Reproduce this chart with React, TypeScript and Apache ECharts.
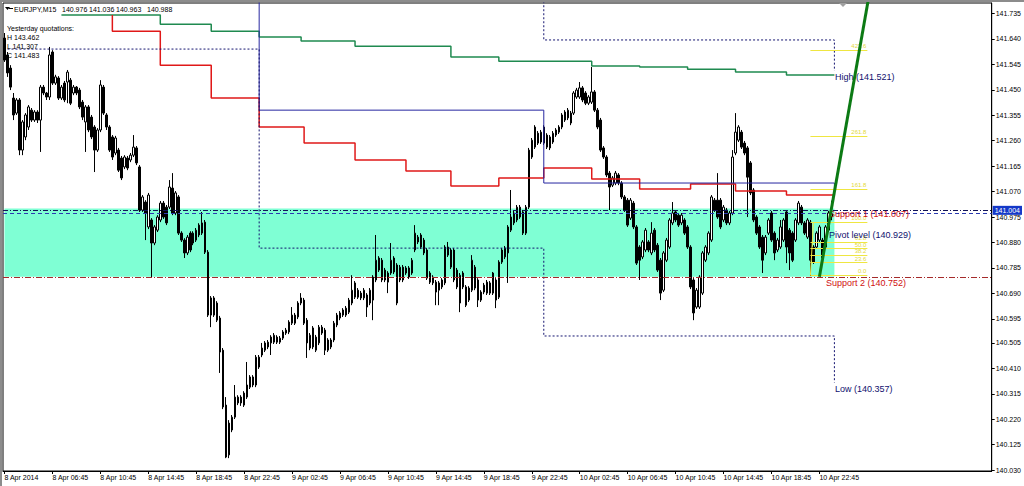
import React, { useEffect, useRef } from "react";
import * as echarts from "echarts";

const FONT = "'Liberation Sans', Arial, sans-serif";

// ---------- axes ----------
const TIME_LABELS = [
  "8 Apr 2014", "8 Apr 06:45", "8 Apr 10:45", "8 Apr 14:45", "8 Apr 18:45", "8 Apr 22:45",
  "9 Apr 02:45", "9 Apr 06:45", "9 Apr 10:45", "9 Apr 14:45", "9 Apr 18:45", "9 Apr 22:45",
  "10 Apr 02:45", "10 Apr 06:45", "10 Apr 10:45", "10 Apr 14:45", "10 Apr 18:45", "10 Apr 22:45",
];
const LABEL_STEP = 16; // bars between time labels (4h of M15)
const SLOT_COUNT = 330; // bars that fit the window incl. chart shift
const Y_MIN = 140.027;
const Y_MAX = 141.774;
const Y_TICKS = [
  140.03, 140.125, 140.22, 140.315, 140.41, 140.505, 140.595, 140.69, 140.785, 140.88,
  140.975, 141.07, 141.165, 141.26, 141.355, 141.45, 141.545, 141.64, 141.735,
];

// ---------- candles: [open, close, low, high] in 0.001 above 140.000 ----------
const CANDLES_PTS: number[][] = [
  [1643,1561,1554,1662],[1580,1513,1498,1591],[1531,1460,1449,1542],[1419,1356,1337,1438],[1363,1412,1356,1419],
  [1412,1225,1206,1419],[1225,1330,1206,1337],[1274,1356,1262,1363],[1311,1386,1300,1393],[1374,1337,1330,1382],
  [1337,1367,1330,1374],[1367,1337,1326,1374],[1337,1460,1218,1468],[1460,1438,1430,1468],[1438,1423,1412,1442],
  [1423,1580,1412,1610],[1591,1475,1468,1598],[1475,1498,1468,1506],[1494,1419,1412,1501],[1419,1460,1412,1468],
  [1475,1412,1404,1483],[1479,1516,1400,1524],[1486,1400,1393,1494],[1438,1460,1430,1468],[1460,1438,1430,1464],
  [1449,1386,1378,1457],[1404,1348,1337,1412],[1330,1386,1218,1393],[1386,1300,1292,1393],[1348,1274,1266,1356],
  [1311,1225,1143,1318],[1225,1300,1218,1307],[1300,1468,1292,1486],[1460,1363,1356,1468],[1356,1311,1300,1363],
  [1311,1225,1218,1318],[1274,1199,1188,1281],[1214,1270,1206,1278],[1225,1150,1143,1233],[1195,1121,1113,1203],
  [1162,1199,1154,1206],[1195,1158,1150,1203],[1188,1206,1180,1214],[1206,1236,1199,1281],[1233,1177,1169,1240],
  [1162,1001,994,1169],[1001,1050,994,1057],[1031,990,889,1038],[938,1057,930,1065],[964,878,751,971],
  [878,938,870,945],[926,975,919,982],[964,1027,956,1035],[1027,975,968,1035],[1012,953,945,1020],
  [1012,1087,1005,1113],[1083,990,982,1139],[990,1065,982,1072],[1050,915,908,1057],[915,889,882,922],
  [889,841,822,896],[841,900,833,908],[915,852,844,922],[878,915,870,922],[889,926,882,934],
  [908,945,900,952],[915,953,908,994],[956,844,837,964],[844,609,602,852],[609,673,564,680],
  [673,609,602,680],[590,654,583,661],[598,471,393,606],[478,266,258,486],[273,79,75,303],
  [87,206,75,217],[180,228,172,236],[228,303,221,348],[281,303,273,310],[303,281,270,310],
  [273,318,266,325],[303,348,296,434],[340,378,333,385],[378,348,340,385],[348,452,340,460],
  [452,415,408,460],[460,486,452,505],[478,505,471,512],[508,490,482,516],[505,527,460,534],
  [508,534,501,542],[527,508,501,534],[508,523,501,531],[523,546,516,553],[542,553,535,561],
  [546,583,538,590],[579,609,572,639],[609,579,572,617],[602,654,594,661],[654,673,646,691],
  [665,579,572,673],[590,505,449,598],[486,534,478,542],[561,490,482,568],[478,527,471,535],
  [505,564,497,572],[564,542,535,572],[553,478,460,561],[478,516,471,523],[516,490,482,523],
  [516,579,508,587],[572,609,564,617],[598,617,590,624],[609,628,602,635],[609,635,602,643],
  [620,665,613,673],[654,702,646,758],[676,729,669,736],[702,676,669,710],[691,673,665,699],
  [673,702,665,710],[684,639,602,691],[654,702,646,710],[665,751,590,758],[740,814,732,908],
  [777,822,770,829],[814,740,732,822],[777,740,732,785],[732,766,691,773],[766,814,759,878],
  [822,770,762,829],[796,654,646,803],[740,788,732,796],[788,740,732,796],[766,785,759,792],
  [785,751,744,792],[766,814,759,822],[852,915,844,945],[900,882,874,908],[863,908,856,915],
  [889,841,833,897],[852,747,740,859],[766,732,725,773],[729,751,721,758],[732,695,646,740],
  [702,729,646,736],[714,740,706,747],[729,863,721,870],[863,833,826,882],[788,852,781,859],
  [852,740,732,859],[777,714,706,785],[654,758,620,766],[766,714,706,773],[714,646,639,721],
  [665,710,658,717],[702,814,695,833],[788,710,702,796],[740,665,639,747],[665,695,658,702],
  [695,721,687,729],[732,691,684,740],[691,729,684,736],[691,766,684,770],[740,665,635,747],
  [676,807,669,814],[807,852,800,859],[826,859,818,867],[841,938,729,945],[926,975,919,1076],
  [953,990,945,998],[964,1012,956,1020],[1012,975,968,1020],[994,915,908,1001],[915,1012,908,1020],
  [1012,1225,1005,1233],[1199,1262,1192,1270],[1236,1311,1229,1318],[1288,1251,1244,1296],[1255,1292,1248,1300],
  [1251,1311,1244,1318],[1281,1236,1229,1288],[1274,1233,1225,1281],[1255,1288,1248,1296],[1281,1300,1274,1307],
  [1292,1311,1285,1318],[1311,1356,1303,1363],[1337,1367,1330,1374],[1345,1374,1337,1382],[1363,1326,1318,1371],
  [1363,1438,1356,1445],[1423,1449,1416,1457],[1423,1457,1416,1479],[1457,1412,1404,1464],[1438,1400,1393,1445],
  [1400,1423,1393,1430],[1404,1442,1397,1535],[1442,1374,1367,1449],[1374,1311,1303,1382],[1337,1225,1218,1345],
  [1233,1199,1192,1240],[1199,1132,1124,1206],[1139,1087,1001,1147],[1094,1121,1087,1128],[1102,1139,1094,1147],
  [1132,1102,1094,1139],[1102,1050,1042,1109],[1050,1001,994,1057],[1038,945,938,1046],[971,1038,964,1046],
  [1027,938,930,1035],[938,803,796,945],[863,814,740,870],[826,882,818,889],[852,926,844,934],
  [882,852,844,889],[841,915,833,956],[926,852,844,934],[870,777,770,878],[814,691,665,822],
  [702,841,695,848],[814,889,807,897],[863,964,856,971],[953,990,945,1031],[994,964,956,1001],
  [982,945,938,990],[953,982,945,990],[964,915,908,971],[938,863,856,945],[863,714,706,870],
  [740,617,590,747],[639,702,632,710],[639,751,632,758],[691,841,684,848],[814,863,807,870],
  [841,915,833,922],[889,1050,882,1057],[1038,1001,994,1046],[1038,975,968,1139],[1038,938,930,1046],
  [964,1012,956,1020],[1001,953,945,1009],[953,990,945,998],[990,1199,982,1225],[1214,1292,1206,1363],
  [1262,1311,1255,1318],[1292,1236,1229,1300],[1251,1214,1206,1259],[1233,1124,975,1240],[1177,1065,1057,1184],
  [1076,964,956,1083],[975,915,908,982],[938,863,856,945],[900,814,766,908],[841,900,833,908],
  [915,964,908,971],[990,889,882,998],[915,841,814,922],[852,889,844,897],[863,938,856,964],
  [889,964,882,971],[994,863,803,1001],[926,841,777,934],[915,814,807,922],[889,964,882,971],
  [953,1027,945,1035],[1012,953,945,1020],[953,915,908,960],[900,964,893,971],[956,814,755,964],
  [863,807,800,870],[863,915,856,922],[889,938,882,945],[889,822,807,897],[863,938,856,945],
  [926,990,919,998],[976,988,963,1036],
];

// ---------- indicator lines: [bar index, price] vertices ----------
const GREEN_STEPS: [number, number][] = [
  [19,141.729],[52,141.729],[52,141.695],[69,141.695],[69,141.669],[85,141.669],[85,141.647],[99,141.647],
  [99,141.632],[117,141.632],[117,141.613],[149,141.613],[149,141.572],[165,141.572],[165,141.557],[196,141.557],
  [196,141.539],[212,141.539],[212,141.535],[228,141.535],[228,141.527],[244,141.527],[244,141.516],[261,141.516],
  [261,141.505],[277,141.505],
];
const RED_STEPS: [number, number][] = [
  [36,141.729],[36,141.669],[52,141.669],[52,141.542],[69,141.542],[69,141.419],[85,141.419],[85,141.311],
  [100,141.311],[100,141.251],[117,141.251],[117,141.188],[134,141.188],[134,141.147],[149,141.147],[149,141.091],
  [165,141.091],[165,141.121],[180,141.121],[180,141.158],[196,141.158],[196,141.117],[212,141.117],[212,141.08],
  [229,141.08],[229,141.098],[244,141.098],[244,141.072],[261,141.072],[261,141.057],[277,141.057],
];
const BLUE_STEPS: [number, number][] = [
  [85,141.9],[85,141.374],[180,141.374],[180,141.102],[277,141.102],[277,141.076],
];
const DAY_LOW_STEPS: [number, number][] = [
  [1,141.602],[85,141.602],[85,140.859],[180,140.859],[180,140.531],[277,140.531],[277,140.357],
];
const DAY_HIGH_STEPS: [number, number][] = [
  [180,141.9],[180,141.636],[277,141.636],[277,141.521],
];
const TREND_LINE: [number, number][] = [[272,140.752],[289,141.83]];

// ---------- levels ----------
const SUPPORT_1 = 141.007;
const SUPPORT_2 = 140.752;
const PIVOT = 140.929;
const PRICE_LINE = 141.004;
const BID_LINE = 140.99;
const BAND_END_BAR = 277;

const FIB_LEVELS = [0, 23.6, 38.2, 50, 61.8, 100, 161.8, 261.8, 423.6];
const FIB_LOW = 140.758;
const FIB_HIGH = 140.956;
const FIB_START = 269;
const FIB_END = 288;

const LEVEL_LABELS = [
  { text: "High (141.521)", bar: 277, price: 141.521, color: "#10106e" },
  { text: "Support 1 (141.007)", bar: 275, price: SUPPORT_1, color: "#d01010" },
  { text: "Pivot level (140.929)", bar: 275, price: PIVOT, color: "#10106e" },
  { text: "Support 2 (140.752)", bar: 274, price: SUPPORT_2, color: "#d01010" },
  { text: "Low (140.357)", bar: 277, price: 140.357, color: "#10106e" },
];

const HEADER_VALUES = ["140.976", "141.036", "140.963", "140.988"];
const YESTERDAY = ["Yesterday quotations:", "H 143.462", "L 141.307", "C 141.483"];

const toPrice = (v: number) => 140 + v / 1000;

export default function App() {
  const ref = useRef<HTMLDivElement>(null);

  useEffect(() => {
    if (!ref.current) return;
    const chart = echarts.init(ref.current, null, { renderer: "svg" });
    const slots = Array.from({ length: SLOT_COUNT }, (_, i) => String(i));
    const showIdx = (i: number) => i % LABEL_STEP === 0 && i / LABEL_STEP < TIME_LABELS.length;
    const candles = CANDLES_PTS.map((r) => r.map(toPrice));
    const fibPrice = (l: number) => FIB_LOW + (l / 100) * (FIB_HIGH - FIB_LOW);

    const stepLine = (data: [number, number][], color: string, width: number, type: any = "solid", z = 4) => ({
      type: "line",
      data,
      showSymbol: false,
      symbol: "none",
      silent: true,
      clip: true,
      z,
      lineStyle: { color, width, type },
    });

    const headerXs = [62, 89, 116, 147];

    const option: any = {
      animation: false,
      backgroundColor: "#ffffff",
      textStyle: { fontFamily: FONT },
      grid: { left: 3, right: 32, top: 3, bottom: 15, show: true, borderColor: "#000", borderWidth: 1, backgroundColor: "#fff" },
      xAxis: {
        type: "category",
        data: slots,
        boundaryGap: true,
        axisLine: { show: true, lineStyle: { color: "#000", width: 1 } },
        axisTick: { show: true, interval: showIdx, alignWithLabel: true, length: 3, lineStyle: { color: "#000" } },
        axisLabel: {
          interval: showIdx,
          formatter: (_v: string, idx: number) => TIME_LABELS[idx / LABEL_STEP] ?? "",
          align: "left",
          fontSize: 7,
          color: "#000",
          margin: 3,
          fontFamily: FONT,
        },
        splitLine: { show: false },
      },
      yAxis: {
        type: "value",
        position: "right",
        min: Y_MIN,
        max: Y_MAX,
        axisLine: { show: true, lineStyle: { color: "#000" } },
        axisTick: { show: true, length: 3, customValues: Y_TICKS, lineStyle: { color: "#000" } },
        axisLabel: {
          customValues: Y_TICKS,
          formatter: (v: number) => v.toFixed(3),
          fontSize: 7,
          color: "#000",
          margin: 4,
          fontFamily: FONT,
        },
        splitLine: { show: false },
      },
      graphic: [
        { type: "rect", shape: { x: 0, y: 0, width: 1024, height: 2 }, style: { fill: "#8c8c8c" }, z: 100 },
        { type: "rect", shape: { x: 0, y: 0, width: 2, height: 486 }, style: { fill: "#8c8c8c" }, z: 100 },
        { type: "polygon", shape: { points: [[5, 7], [10, 7], [7.5, 10]] }, style: { fill: "#000" }, z: 100 },
        { type: "line", shape: { x1: 9, y1: 8.5, x2: 13, y2: 8.5 }, style: { stroke: "#000", lineWidth: 1 }, z: 100 },
        { type: "polygon", shape: { points: [[839, 3], [847, 3], [843, 7]] }, style: { fill: "#a0a0a0" }, z: 100 },
        { type: "text", x: 14, y: 9, z: 100, style: { text: "EURJPY,M15", fontSize: 7, fontFamily: FONT, fill: "#000", verticalAlign: "middle" } },
        ...HEADER_VALUES.map((t, i) => ({
          type: "text", x: headerXs[i], y: 9, z: 100,
          style: { text: t, fontSize: 7, fontFamily: FONT, fill: "#000", verticalAlign: "middle" },
        })),
        ...YESTERDAY.map((t, i) => ({
          type: "text", x: 7, y: i === 0 ? 28 : 28 + 9 * i, z: 100,
          style: { text: t, fontSize: 7, fontFamily: FONT, fill: "#000", verticalAlign: "middle" },
        })),
      ],
      series: [
        // band between supports
        {
          type: "line",
          data: [],
          z: 1,
          silent: true,
          markArea: {
            silent: true,
            itemStyle: { color: "#7fffd4", opacity: 1 },
            data: [[{ xAxis: 0, yAxis: SUPPORT_1 }, { xAxis: BAND_END_BAR, yAxis: SUPPORT_2 }]],
          },
        },
        // horizontal levels
        {
          type: "line",
          data: [],
          z: 2,
          silent: true,
          markLine: {
            silent: true,
            symbol: "none",
            label: { show: false },
            data: [
              { yAxis: SUPPORT_2, lineStyle: { color: "#a52a2a", width: 1, type: [6, 2, 1, 2] } },
              { yAxis: BID_LINE, lineStyle: { color: "#2a3ab0", width: 1, type: [4, 3] } },
              {
                yAxis: PRICE_LINE,
                lineStyle: { color: "#14145a", width: 1, type: [5, 2, 1, 2] },
                label: {
                  show: true,
                  position: "end",
                  distance: 1,
                  formatter: PRICE_LINE.toFixed(3),
                  backgroundColor: "#1438c8",
                  color: "#ffffff",
                  fontSize: 7,
                  fontFamily: FONT,
                  padding: [1, 2, 1, 2],
                },
              },
            ],
          },
        },
        // candles
        {
          type: "candlestick",
          data: candles,
          z: 3,
          barWidth: 2,
          silent: true,
          itemStyle: { color: "#ffffff", color0: "#000000", borderColor: "#000000", borderColor0: "#000000", borderWidth: 1 },
        },
        stepLine(GREEN_STEPS, "#1f8a50", 1.5),
        stepLine(RED_STEPS, "#e01818", 1.5),
        stepLine(BLUE_STEPS, "#2626a0", 1),
        stepLine(DAY_LOW_STEPS, "#141470", 1, [2, 2]),
        stepLine(DAY_HIGH_STEPS, "#141470", 1, [2, 2]),
        // fibonacci
        {
          type: "line",
          data: [],
          z: 4,
          silent: true,
          markLine: {
            silent: true,
            symbol: "none",
            lineStyle: { color: "#efe641", width: 1, type: "solid" },
            label: { show: true, position: "insideEndTop", formatter: "{b}", color: "#e3d93a", fontSize: 6, fontFamily: FONT, distance: 1 },
            data: FIB_LEVELS.map((l) => [
              { coord: [FIB_START, fibPrice(l)], name: l.toFixed(1) },
              { coord: [FIB_END, fibPrice(l)] },
            ]),
          },
        },
        stepLine([[FIB_START, FIB_LOW], [FIB_START + 1, FIB_HIGH]], "#efe641", 1, "solid", 4),
        // level texts
        {
          type: "scatter",
          z: 5,
          silent: true,
          symbol: "circle",
          symbolSize: 1,
          itemStyle: { color: "#ffffff", opacity: 0 },
          label: { show: true, position: "right", distance: 0, formatter: "{b}", fontSize: 9, fontFamily: FONT, opacity: 1 },
          data: LEVEL_LABELS.map((d) => ({
            name: d.text,
            value: [d.bar, d.price],
            label: { color: d.color, offset: [0, 6] },
          })),
        },
        // trend line
        stepLine(TREND_LINE, "#0c7a14", 3, "solid", 6),
      ],
    };

    chart.setOption(option);
    return () => chart.dispose();
  }, []);

  return <div ref={ref} style={{ position: "fixed", left: 0, top: 0, width: 1024, height: 486, background: "#fff" }} />;
}
